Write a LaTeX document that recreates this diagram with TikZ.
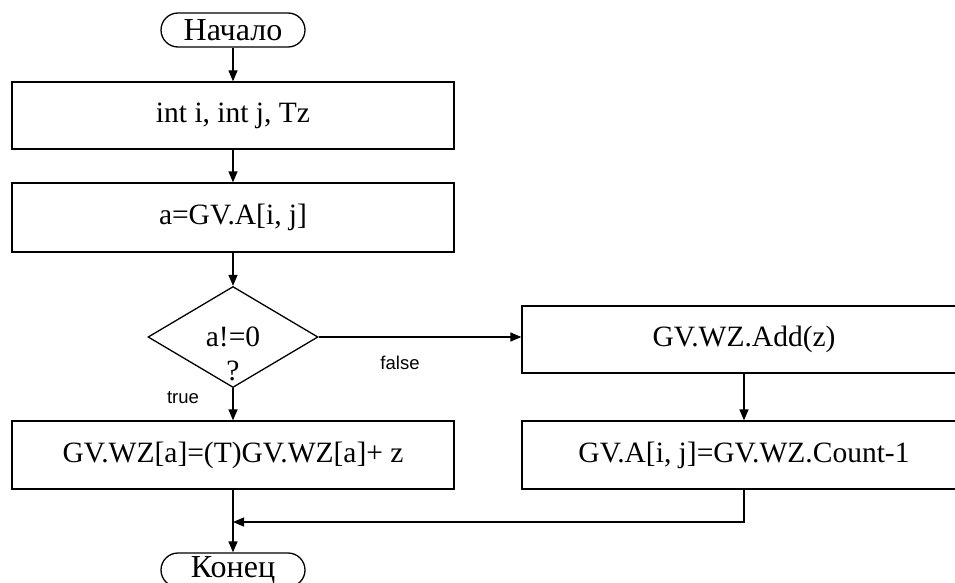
\documentclass[tikz,border=0pt]{standalone}
\usepackage{fontspec}
\setmainfont{Liberation Serif}
\newfontfamily\labelfont{Liberation Sans}
\usetikzlibrary{shapes.geometric,arrows.meta}
\tikzset{
  base/.style={draw=black, line width=1.3pt, inner sep=0pt, font=\fontsize{29.5}{33}\selectfont},
  procbox/.style={base, rectangle, minimum width=442pt, minimum height=67pt},
  wideproc/.style={base, rectangle, minimum width=444pt, minimum height=67pt},
  termbox/.style={base, rectangle, rounded corners=17pt, minimum width=144pt, minimum height=34pt, font=\fontsize{32}{34}\selectfont},
  decbox/.style={base, diamond, minimum width=170pt, minimum height=101pt},
  plaintext/.style={inner sep=0pt, font=\fontsize{29.5}{33}\selectfont},
  edgelabel/.style={inner sep=0pt, font=\labelfont\fontsize{18.5}{20}\selectfont},
  arr/.style={line width=1.3pt, -{Triangle[length=11pt,width=9pt]}},
  conn/.style={line width=1.3pt}
}
\begin{document}
\begin{tikzpicture}[x=1pt,y=-1pt]
\useasboundingbox (0,0) rectangle (955,583);
\clip (0,0) rectangle (955,583);

\node[termbox] (start) at (233,30) {Начало};
\node[procbox] (b1) at (233,115.5) {int i, int j, Tz};
\node[procbox, minimum height=69pt] (b2) at (233,217.5) {a=GV.A[i, j]};
\node[decbox] (d) at (233,337) {};
\node[plaintext] (dt1) at (233,337) {a!=0};
\node[plaintext] (dt2) at (233,371) {?};
\node[wideproc] (add) at (744,339.5) {GV.WZ.Add(z)};
\node[procbox, minimum height=68pt] (b3) at (233,455) {GV.WZ[a]=(T)GV.WZ[a]+ z};
\node[wideproc, minimum height=68pt] (b4) at (744,455) {GV.A[i, j]=GV.WZ.Count-1};
\node[termbox] (end) at (233,570) {Конец};

\node[edgelabel] (lfalse) at (400,363) {false};
\node[edgelabel] (ltrue) at (183,398) {true};

\coordinate (m) at (233,522);

\draw[arr] (start.south) -- (b1.north);
\draw[arr] (b1.south) -- (b2.north);
\draw[arr] (b2.south) -- (d.north);
\draw[arr] (d.south) -- (b3.north);
\draw[arr] (d.east) -- (d.east -| add.west);
\draw[arr] (add.south) -- (b4.north);
\draw[arr] (b3.south) -- (end.north);
\draw[arr] (b4.south) |- (m);
\end{tikzpicture}
\end{document}
